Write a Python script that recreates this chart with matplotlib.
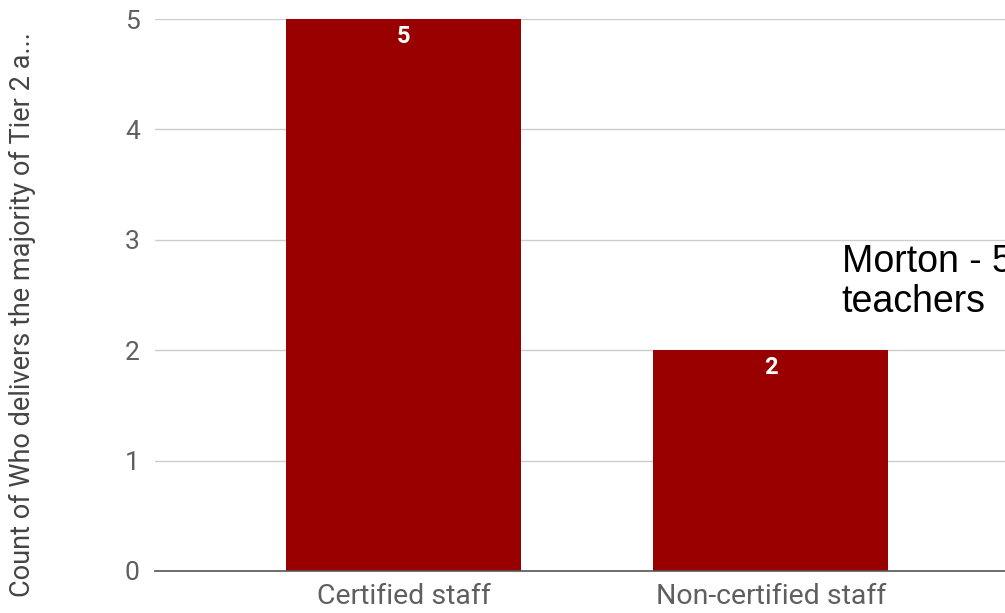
import matplotlib.pyplot as plt

# data
categories = ['Certified staff', 'Non-certified staff']
counts = [5, 2]
yticks = [0, 1, 2, 3, 4, 5]
ylabel = 'Count of Who delivers the majority of Tier 2 a...'
note = 'Morton - 5\nteachers'

bar_color = '#990000'
grid_color = '#cccccc'
tick_color = '#5f5f5f'

fig = plt.figure(figsize=(10.05, 6.13), dpi=100)
ax = fig.add_axes([155 / 1005, 1 - 571 / 613, 1 - 155 / 1005, (571 - 19) / 613])

x = list(range(len(categories)))
bars = ax.bar(x, counts, width=0.64, color=bar_color, zorder=3, clip_on=False)

# value labels inside the top of each bar
for xi, v in zip(x, counts):
    ax.annotate(str(v), (xi, v), xytext=(0, -4), textcoords='offset points',
                ha='center', va='top', color='white', fontweight='bold',
                fontsize=17, family='Roboto', zorder=4)

ax.set_xlim(-0.678, 1.638)
ax.set_ylim(0, 5)
ax.set_yticks(yticks)
ax.set_xticks(x)
ax.set_xticklabels(categories, fontsize=20.5, family='Roboto', color=tick_color)
ax.set_yticklabels([str(t) for t in yticks], fontsize=19, family='Roboto',
                   color=tick_color)
ax.tick_params(axis='both', length=0)
ax.tick_params(axis='y', pad=11)
ax.tick_params(axis='x', pad=9)

ax.grid(axis='y', color=grid_color, linewidth=1, zorder=0)
for s in ['top', 'right', 'left']:
    ax.spines[s].set_visible(False)
ax.spines['bottom'].set_color('#555555')
ax.spines['bottom'].set_linewidth(1.2)
ax.spines['bottom'].set_zorder(4)

fig.text(22 / 1005, 1 - 315 / 613, ylabel, rotation=90, ha='center',
         va='center', fontsize=19.5, family='Roboto', color='#444444')

# note sits past the right edge in the reference, so it is cut there too
ax.text(1.193, (571 - 312) / 110.4, note, ha='left', va='baseline',
        fontsize=27, family='Liberation Sans', color='black',
        linespacing=1.16, clip_on=False)

fig.savefig('out.png', dpi=100)
